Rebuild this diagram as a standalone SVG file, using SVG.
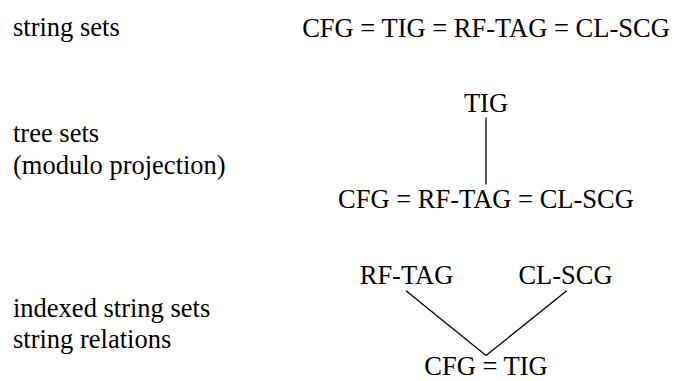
<svg xmlns="http://www.w3.org/2000/svg" width="674" height="381" viewBox="0 0 674 381">
<defs>
<style>
.e{stroke:#000;stroke-width:1.3;fill:none}
</style>
</defs>
<rect width="674" height="381" fill="#fff"/>
<g id="labels">
<text x="13" y="36" font-family="Liberation Serif" font-size="26.5">string sets</text>
<text x="13" y="141.5" font-family="Liberation Serif" font-size="26.5">tree sets</text>
<text x="13" y="174" font-family="Liberation Serif" font-size="26.5">(modulo projection)</text>
<text x="13" y="316.5" font-family="Liberation Serif" font-size="26.5">indexed string sets</text>
<text x="13" y="348" font-family="Liberation Serif" font-size="26.5">string relations</text>
</g>
<g id="n-string"><text x="486" y="36.5" text-anchor="middle" font-family="Liberation Serif" font-size="26.5">CFG = TIG = RF-TAG = CL-SCG</text></g>
<g id="n-tig"><text x="486" y="112" text-anchor="middle" font-family="Liberation Serif" font-size="26.5">TIG</text></g>
<g id="n-tree-eq"><text x="486" y="207.5" text-anchor="middle" font-family="Liberation Serif" font-size="26.5">CFG = RF-TAG = CL-SCG</text></g>
<g id="n-rftag"><text x="406.5" y="284.3" text-anchor="middle" font-family="Liberation Serif" font-size="26.5">RF-TAG</text></g>
<g id="n-clscg"><text x="565.5" y="284.3" text-anchor="middle" font-family="Liberation Serif" font-size="26.5">CL-SCG</text></g>
<g id="n-cfgtig"><text x="486" y="375" text-anchor="middle" font-family="Liberation Serif" font-size="26.5">CFG = TIG</text></g>
<g id="connectors">
<line class="e" x1="486" y1="117.5" x2="486" y2="184.5"/>
<line class="e" x1="406" y1="290.7" x2="486" y2="355.5"/>
<line class="e" x1="566.7" y1="290.7" x2="486" y2="355.5"/>
</g>
</svg>
